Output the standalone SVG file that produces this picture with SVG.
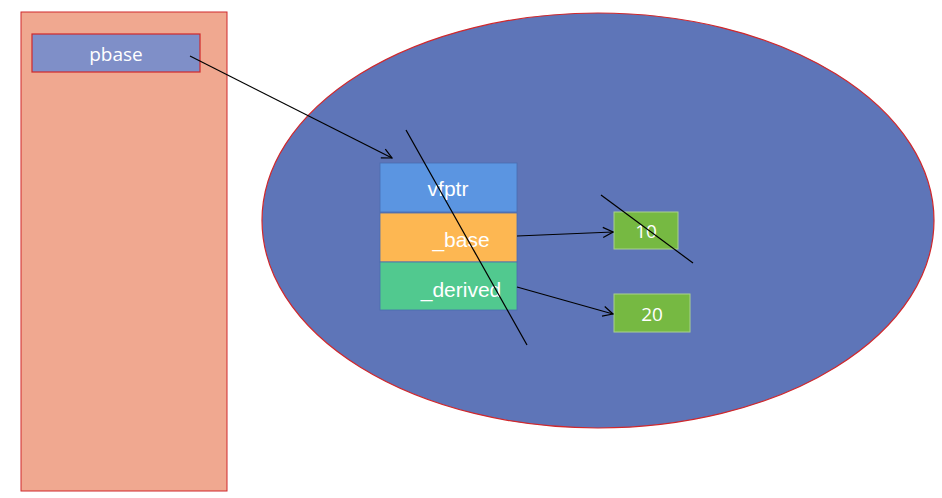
<svg xmlns="http://www.w3.org/2000/svg" width="942" height="498" viewBox="0 0 942 498">
<defs>
<style>
.t{font-family:"Open Sans","Liberation Sans",sans-serif;font-size:19px;fill:#ffffff;text-anchor:middle}
.a{font-family:"Liberation Sans",Arial,sans-serif;font-size:21px;fill:#ffffff;text-anchor:middle}
.ln{stroke:#000;stroke-width:1.2;fill:none}
.cell{stroke:#4a6db0;stroke-width:0.8}
</style>
<marker id="ah" viewBox="0 0 12 12" refX="11" refY="6" markerWidth="12" markerHeight="12" markerUnits="userSpaceOnUse" orient="auto">
<path d="M1,1 L11,6 L1,11" fill="none" stroke="#000" stroke-width="1.2"/>
</marker>
</defs>
<rect width="942" height="498" fill="#ffffff"/>
<g id="stack">
<rect x="21" y="12" width="206" height="479" fill="#F0A890" stroke="#D0282C" stroke-width="1"/>
</g>
<g id="heap">
<ellipse cx="598" cy="220.5" rx="336" ry="207.5" fill="#5E75B8" stroke="#D0282C" stroke-width="1.2"/>
</g>
<g id="pbase">
<rect x="32" y="34" width="168" height="38" fill="#7F8FC8" stroke="#D0282C" stroke-width="1.2"/>
<text class="t" x="116" y="61">pbase</text>
</g>
<g id="vfptr">
<rect x="380" y="163" width="137" height="49" fill="#5B95E1" class="cell"/>
<text class="a" x="448" y="196">vfptr</text>
</g>
<g id="base">
<rect x="380" y="213" width="137" height="49" fill="#FDB752" class="cell"/>
<text class="a" x="461" y="247">_base</text>
</g>
<g id="derived">
<rect x="380" y="262" width="137" height="48" fill="#51C98F" class="cell"/>
<text class="a" x="461" y="297">_derived</text>
</g>
<g id="v10">
<rect x="614" y="212" width="64" height="37" fill="#76B942" stroke="#A9D18E" stroke-width="1"/>
<text class="t" x="646" y="238">10</text>
</g>
<g id="v20">
<rect x="614" y="294" width="76" height="38" fill="#76B942" stroke="#A9D18E" stroke-width="1"/>
<text class="t" x="652" y="321">20</text>
</g>
<g id="connectors">
<line class="ln" x1="190" y1="56" x2="392" y2="158" marker-end="url(#ah)"/>
<line class="ln" x1="517" y1="236" x2="613" y2="232" marker-end="url(#ah)"/>
<line class="ln" x1="517" y1="287" x2="613" y2="314" marker-end="url(#ah)"/>
<line class="ln" x1="406" y1="130" x2="527" y2="345"/>
<line class="ln" x1="601" y1="195" x2="693" y2="263"/>
</g>
</svg>
